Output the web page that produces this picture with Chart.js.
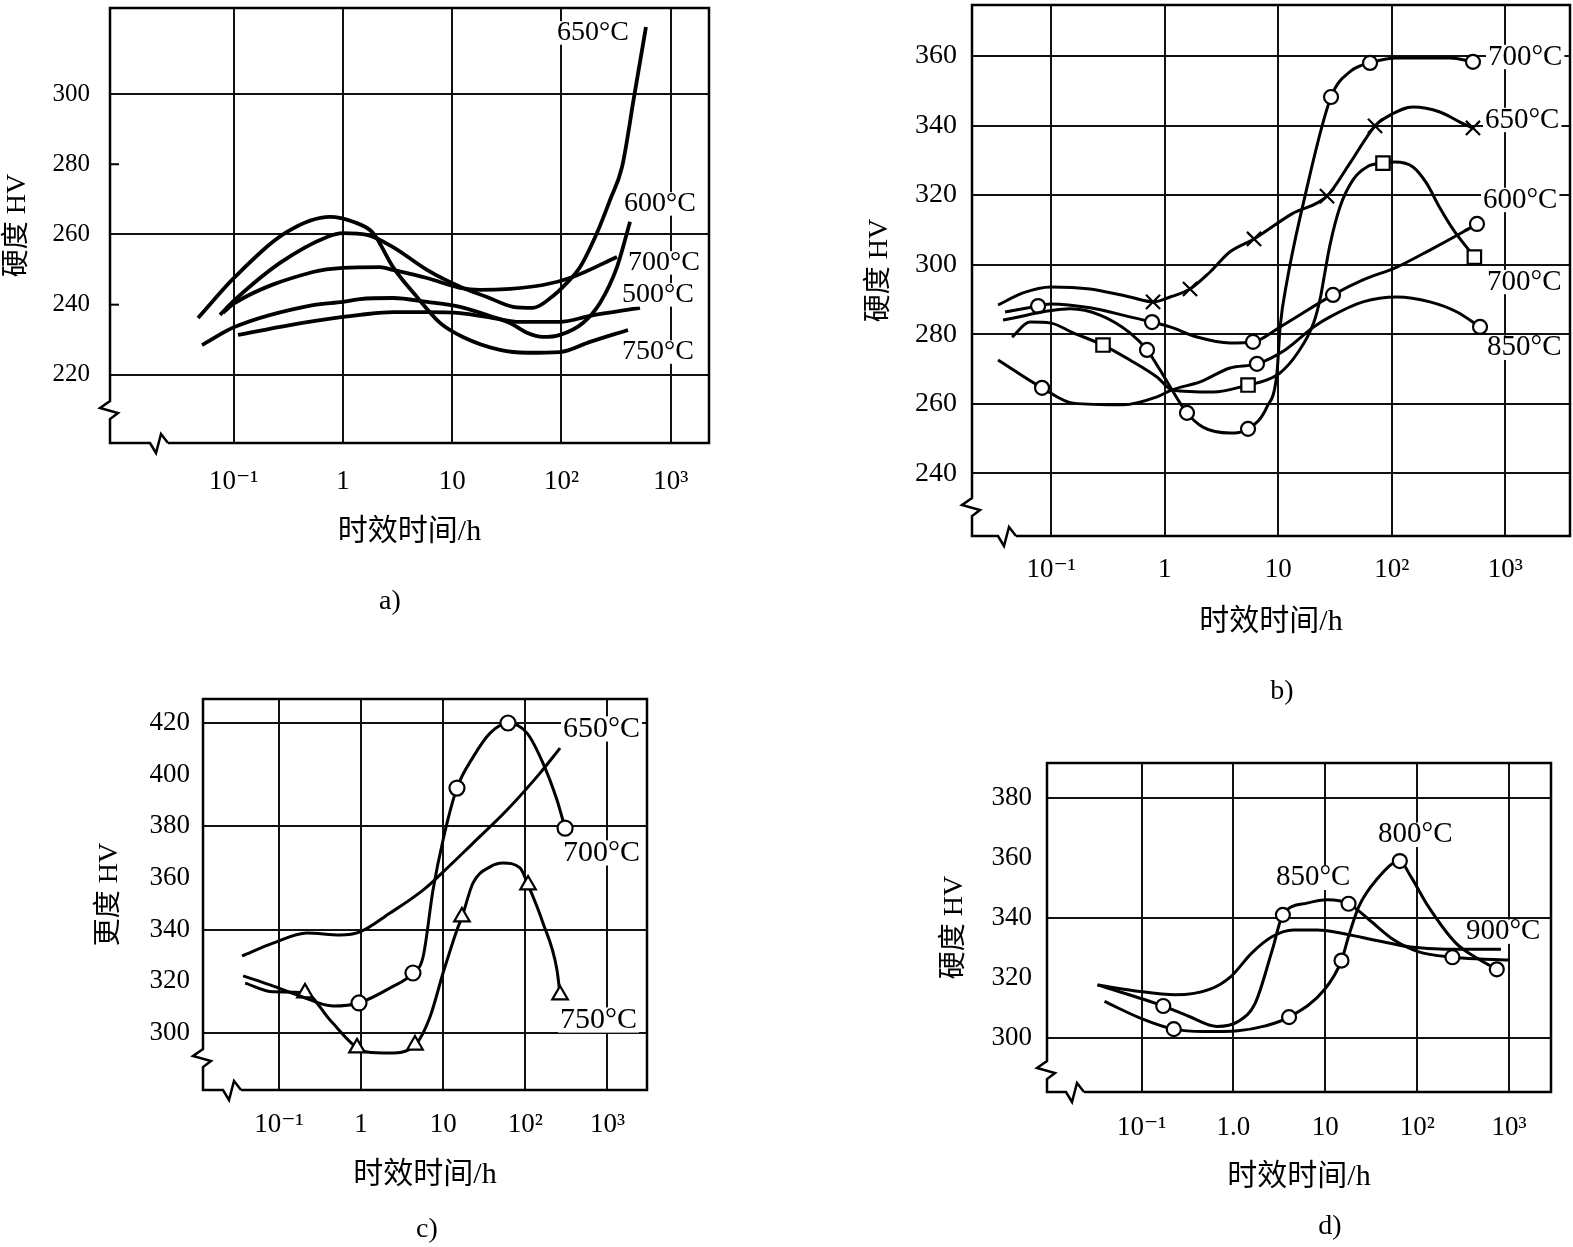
<!DOCTYPE html>
<html><head><meta charset="utf-8">
<script src="https://cdn.jsdelivr.net/npm/chart.js@4.4.1/dist/chart.umd.min.js"></script>
<style>
html,body{margin:0;padding:0;background:#fff;}
#page{position:relative;width:1573px;height:1247px;overflow:hidden;background:#fff;}
canvas{position:absolute;left:0;top:0;width:1573px;height:1247px;}
.cap{position:absolute;font-family:'Liberation Serif','DejaVu Serif',serif;font-size:28px;color:#000;transform:translate(-50%,-50%);white-space:nowrap;}
</style></head><body>
<div id="page">
<canvas id="ca" width="1573" height="1247"></canvas>
<canvas id="cb" width="1573" height="1247"></canvas>
<canvas id="cc" width="1573" height="1247"></canvas>
<canvas id="cd" width="1573" height="1247"></canvas>
<div class="cap" style="left:390px;top:600px">a)</div>
<div class="cap" style="left:1282px;top:690px">b)</div>
<div class="cap" style="left:427px;top:1228px">c)</div>
<div class="cap" style="left:1330px;top:1225px">d)</div>
</div>
<script>
// ---------- shared tick values / labels ----------
const X_TICKS = [0.1, 1, 10, 100, 1000];
const X_LABELS = ['10\u207B\u00B9', '1', '10', '10\u00B2', '10\u00B3'];
const X_LABELS_D = ['10\u207B\u00B9', '1.0', '10', '10\u00B2', '10\u00B3'];
const X_TITLE = '时效时间/h';

// ---------- panel a ----------
const A_Y_TICKS = [220, 240, 260, 280, 300];
const A_T_650 = [0.0748, 0.1026, 0.265, 0.714, 1.0, 1.66, 2.87, 5.87, 11.8, 20.8, 36.0, 54.8, 83.6, 112, 148, 211, 278, 358, 461, 593];
const A_HV_650 = [237.1, 241.4, 251.9, 259.3, 260.4, 259.9, 256.4, 249.9, 245.1, 242.2, 239.4, 239.1, 242.5, 246.2, 250.7, 260.4, 269.8, 279.2, 299.1, 319.1];
const A_T_600 = [0.0512, 0.1026, 0.531, 1.0, 1.43, 2.87, 5.87, 11.8, 23.6, 33.8, 48.3, 67.7, 96.8, 157, 225, 322, 424];
const A_HV_600 = [228.5, 233.7, 239.9, 240.8, 241.6, 241.9, 240.8, 239.4, 236.5, 234.8, 232.0, 230.8, 231.4, 234.8, 240.5, 250.7, 263.6];
const A_T_700 = [0.0797, 0.1026, 0.531, 1.0, 2.18, 2.87, 5.87, 11.8, 17.9, 33.8, 67.7, 127, 322];
const A_HV_700 = [237.7, 240.5, 249.3, 250.5, 250.7, 249.9, 247.6, 244.8, 244.2, 244.5, 245.6, 247.9, 253.6];
const A_T_500 = [0.1094, 0.327, 1.0, 1.43, 2.87, 5.87, 11.8, 23.6, 41.7, 96.8, 182, 523];
const A_HV_500 = [231.4, 234.2, 236.5, 237.1, 237.9, 237.9, 237.6, 236.2, 235.1, 235.1, 236.8, 239.1];
const A_T_750 = [0.0471, 0.1026, 0.307, 0.760, 1.236, 1.884, 2.87, 4.75, 7.73, 12.5, 27.4, 48.3, 96.8, 182, 406];
const A_HV_750 = [236.2, 247.9, 260.7, 265.0, 263.6, 260.4, 250.7, 242.2, 234.8, 230.8, 227.1, 226.3, 226.5, 229.4, 232.8];
const A_NAMES = ['650°C', '600°C', '700°C', '500°C', '750°C'];

// ---------- panel b ----------
const B_Y_TICKS = [240, 260, 280, 300, 320, 340, 360];
const B_T_700H = [0.0376, 0.147, 0.269, 0.494, 0.698, 0.910, 1.159, 1.571, 2.17, 3.76, 5.42, 7.96, 9.75, 10.4, 12.0, 16.9, 29.2, 43.8, 64.4, 111, 326, 520];
const B_HV_700H = [284.1, 287.3, 285.5, 280.4, 275.5, 269.7, 264.0, 257.4, 253.3, 251.6, 252.8, 259.1, 268.9, 282.1, 295.6, 318.6, 348.2, 355.7, 358.0, 359.4, 359.4, 358.3];
const B_MK_700H = [4, 7, 10, 16, 18, 21];
const B_T_650 = [0.0340, 0.0564, 0.0995, 0.220, 0.494, 0.789, 1.114, 1.671, 2.51, 3.76, 6.12, 13.2, 26.9, 42.9, 71.3, 90.9, 154, 266, 399, 520];
const B_HV_650 = [288.4, 291.9, 293.6, 293.0, 290.7, 289.3, 290.7, 293.0, 297.9, 303.7, 307.4, 314.6, 319.7, 329.2, 339.9, 342.5, 345.3, 343.9, 341.0, 339.3];
const B_MK_650 = [5, 7, 10, 12, 14, 19];
const B_T_600 = [0.0452, 0.0650, 0.0995, 0.156, 0.286, 0.494, 0.855, 1.159, 2.67, 5.42, 7.96, 10.4, 14.8, 20.5, 23.6, 25.1, 28.6, 35.0, 45.6, 60.5, 83.8, 107, 154, 202, 263, 350, 455, 535];
const B_HV_600 = [279.2, 283.5, 283.2, 280.4, 276.9, 272.6, 267.7, 264.0, 263.4, 265.4, 266.9, 268.9, 274.6, 283.2, 290.7, 295.6, 305.7, 316.6, 324.4, 328.1, 329.2, 329.5, 328.1, 323.5, 316.6, 310.0, 305.1, 302.2];
const B_MK_600 = [4, 9, 20, 27];
const B_T_700L = [0.0392, 0.0766, 0.0995, 0.220, 0.494, 0.773, 1.114, 1.93, 3.76, 6.00, 10.4, 30.4, 55.8, 111, 217, 425, 564];
const B_HV_700L = [286.4, 288.1, 288.7, 287.6, 285.0, 283.5, 282.1, 279.2, 277.5, 277.8, 282.1, 291.3, 295.6, 299.3, 304.2, 309.4, 311.7];
const B_MK_700L = [1, 5, 9, 11, 16];
const B_T_850 = [0.0340, 0.0830, 0.156, 0.430, 0.855, 1.159, 2.05, 3.76, 6.50, 11.5, 20.5, 28.6, 55.8, 111, 217, 376, 600];
const B_HV_850 = [272.6, 264.6, 260.2, 259.7, 262.0, 264.0, 266.3, 270.3, 271.5, 275.5, 282.1, 285.0, 289.3, 290.7, 289.3, 286.4, 282.1];
const B_MK_850 = [1, 8, 16];
const B_NAMES = ['700°C', '650°C', '600°C', '700°C', '850°C'];

// ---------- panel c ----------
const C_Y_TICKS = [300, 320, 340, 360, 380, 400, 420];
const C_T_650 = [0.0365, 0.0778, 0.180, 0.455, 0.942, 2.25, 4.28, 5.68, 7.51, 9.95, 14.7, 23.1, 37.2, 61.5, 105, 164, 243, 305];
const C_HV_650 = [322.1, 318.6, 314.3, 310.4, 311.6, 317.4, 323.2, 329.4, 355.3, 374.7, 394.8, 406.8, 416.1, 420.0, 416.1, 404.5, 390.2, 379.3];
const C_MK_650 = [4, 6, 10, 13, 17];
const C_T_700 = [0.0354, 0.0845, 0.219, 0.553, 0.968, 2.25, 5.68, 9.14, 23.1, 59.8, 151, 265];
const C_HV_700 = [329.8, 334.8, 338.7, 337.9, 339.1, 346.4, 355.3, 361.2, 373.5, 386.3, 400.6, 410.3];
const C_T_750 = [0.0387, 0.0845, 0.207, 0.418, 0.891, 1.18, 2.25, 4.53, 6.90, 9.95, 14.7, 16.9, 23.1, 37.2, 53.4, 86.1, 108, 164, 243, 265];
const C_HV_750 = [319.3, 315.9, 315.5, 305.0, 294.2, 292.6, 292.2, 295.3, 306.2, 323.2, 339.9, 344.9, 358.1, 364.3, 365.8, 363.9, 357.3, 342.6, 324.4, 314.7];
const C_MK_750 = [2, 4, 7, 11, 16, 19];
const C_NAMES = ['650°C', '700°C', '750°C'];

// ---------- panel d ----------
const D_Y_TICKS = [300, 320, 340, 360, 380];
const D_T_900 = [0.0331, 0.0824, 0.233, 0.557, 0.936, 1.578, 2.65, 4.48, 8.20, 15.0, 35.9, 85.4, 204, 816];
const D_HV_900 = [317.7, 315.8, 314.4, 316.3, 320.5, 328.3, 333.8, 336.0, 336.0, 334.9, 332.5, 330.3, 329.6, 329.6];
const D_T_850 = [0.0331, 0.172, 0.330, 0.662, 1.114, 1.722, 2.65, 3.45, 6.32, 10.6, 17.9, 30.2, 55.5, 102, 242, 485, 1014];
const D_HV_850 = [317.7, 310.7, 307.2, 303.9, 305.5, 311.6, 329.4, 341.0, 344.9, 346.0, 344.7, 339.3, 332.7, 328.8, 326.9, 326.3, 326.0];
const D_MK_850 = [1, 7, 10, 14];
const D_T_800 = [0.0394, 0.0980, 0.224, 0.468, 1.114, 2.23, 4.03, 9.75, 15.0, 17.9, 23.2, 35.9, 64.7, 85.4, 132, 264, 485, 736];
const D_HV_800 = [312.2, 306.6, 303.0, 302.2, 302.5, 304.1, 307.0, 316.1, 325.8, 333.8, 343.8, 352.6, 358.9, 353.7, 343.8, 331.6, 326.0, 322.9];
const D_MK_800 = [2, 6, 8, 12, 17];
const D_NAMES = ['850°C', '800°C', '900°C'];

// ---------- rendering ----------
const PAGE_W = 1573, PAGE_H = 1247;
const SERIF = "'Liberation Serif','DejaVu Serif',serif";
const CJK = "'Liberation Serif','Noto Sans CJK SC','DejaVu Sans',sans-serif";

function framePlugin(P) {
  return {
    id: 'frame',
    afterDraw(chart) {
      const ctx = chart.ctx, a = chart.chartArea;
      const L = a.left, T = a.top, R = a.right, B = a.bottom;
      const by = B - P.breakFromBottom, bx = L + P.breakFromLeft;
      ctx.save();
      ctx.strokeStyle = '#000';
      ctx.lineWidth = 2.5;
      ctx.lineJoin = 'miter';
      ctx.beginPath();
      ctx.moveTo(bx + 9, B);
      ctx.lineTo(R, B); ctx.lineTo(R, T); ctx.lineTo(L, T);
      ctx.lineTo(L, by - 9);
      ctx.lineTo(L - 10, by - 2);
      ctx.lineTo(L + 8, by + 3);
      ctx.lineTo(L, by + 9);
      ctx.lineTo(L, B);
      ctx.lineTo(bx - 9, B);
      ctx.lineTo(bx - 3, B + 10);
      ctx.lineTo(bx + 2, B - 9);
      ctx.lineTo(bx + 9, B);
      ctx.stroke();
      const ys = chart.scales.y;
      ctx.lineWidth = 2;
      (P.yMinor || []).forEach(v => {
        const y = ys.getPixelForValue(v);
        ctx.beginPath(); ctx.moveTo(L, y); ctx.lineTo(L + 9, y); ctx.stroke();
      });
      ctx.restore();
    }
  };
}

function labelPlugin(P) {
  return {
    id: 'serieslabels',
    afterDraw(chart) {
      const ctx = chart.ctx, xs = chart.scales.x, ys = chart.scales.y;
      ctx.save();
      ctx.font = P.labelSize + 'px ' + SERIF;
      ctx.textAlign = 'left';
      ctx.textBaseline = 'middle';
      P.labels.forEach(l => {
        const x = xs.getPixelForValue(l.t), y = ys.getPixelForValue(l.hv);
        const w = ctx.measureText(l.text).width;
        ctx.fillStyle = '#fff';
        ctx.fillRect(x - 2, y - P.labelSize * 0.42, w + 4, P.labelSize * 0.84);
        ctx.fillStyle = '#000';
        ctx.fillText(l.text, x, y);
      });
      ctx.restore();
    }
  };
}

function zeroPad(sc) {
  sc.paddingTop = 0; sc.paddingBottom = 0; sc.paddingLeft = 0; sc.paddingRight = 0;
}

function build(id, P) {
  const ylh = P.yTitleSize * 1.2, xlh = P.xTitleSize * 1.2;
  const yLeft = P.yTitleX - ylh / 2;
  const Yw = P.frame.L - yLeft;
  const xBottom = P.xTitleY + xlh / 2;
  const Xh = xBottom - P.frame.B;
  const datasets = P.series.map(s => ({
    data: s.t.map((t, i) => ({ x: t, y: s.hv[i] })),
    borderColor: '#000',
    borderWidth: P.lw,
    fill: false,
    cubicInterpolationMode: 'monotone',
    pointStyle: s.style || 'circle',
    pointRadius: s.t.map((_, i) => (s.marks || []).includes(i) ? (s.r || 7) : 0),
    pointHoverRadius: 0,
    pointBackgroundColor: '#fff',
    pointBorderColor: '#000',
    pointBorderWidth: 2.2
  }));
  return new Chart(document.getElementById(id), {
    type: 'line',
    data: { datasets },
    options: {
      responsive: false,
      animation: false,
      devicePixelRatio: 1,
      events: [],
      layout: { autoPadding: false, padding: { left: yLeft, top: P.frame.T, right: PAGE_W - P.frame.R, bottom: PAGE_H - xBottom } },
      plugins: { legend: { display: false }, tooltip: { enabled: false }, title: { display: false } },
      scales: {
        x: {
          type: 'logarithmic', min: P.xMin, max: P.xMax,
          afterBuildTicks: sc => { sc.ticks = X_TICKS.map(v => ({ value: v })); },
          afterFit: sc => { sc.height = Xh; zeroPad(sc); },
          grid: { color: '#111', lineWidth: 2, drawTicks: false },
          border: { display: false },
          ticks: {
            font: { family: SERIF, size: P.xTickSize }, color: '#000',
            padding: P.xLabelY - P.frame.B - P.xTickSize * 0.6,
            maxRotation: 0, autoSkip: false,
            callback: (v, i) => P.xLabels[i]
          },
          title: { display: true, text: X_TITLE, font: { family: CJK, size: P.xTitleSize }, color: '#000', padding: 0 }
        },
        y: {
          type: 'linear', min: P.yMin, max: P.yMax,
          afterBuildTicks: sc => { sc.ticks = P.yTicks.map(v => ({ value: v })); },
          afterFit: sc => { sc.width = Yw; zeroPad(sc); },
          grid: {
            color: c => (c.tick && P.yGrid.includes(c.tick.value)) ? '#111' : 'rgba(0,0,0,0)',
            lineWidth: 2, drawTicks: false
          },
          border: { display: false },
          ticks: {
            font: { family: SERIF, size: P.yTickSize }, color: '#000',
            padding: P.yLabelPad, autoSkip: false,
            callback: v => String(v)
          },
          title: { display: true, text: P.yTitle, font: { family: CJK, size: P.yTitleSize }, color: '#000', padding: 0 }
        }
      }
    },
    plugins: [framePlugin(P), labelPlugin(P)]
  });
}

// panel a
build('ca', {
  frame: { L: 110, T: 8, R: 709, B: 443 },
  xMin: 0.00737, xMax: 2239, yMin: 200.6, yMax: 324.5,
  yTicks: A_Y_TICKS, yGrid: [220, 260, 300], yMinor: [240, 280],
  xLabels: X_LABELS,
  yTickSize: 25, xTickSize: 27, yLabelPad: 20, xLabelY: 482,
  yTitle: '硬度 HV', yTitleSize: 28, yTitleX: 18,
  xTitleSize: 30, xTitleY: 532,
  lw: 3.8, breakFromBottom: 33, breakFromLeft: 49,
  labelSize: 28,
  series: [
    { t: A_T_650, hv: A_HV_650 },
    { t: A_T_600, hv: A_HV_600 },
    { t: A_T_700, hv: A_HV_700 },
    { t: A_T_500, hv: A_HV_500 },
    { t: A_T_750, hv: A_HV_750 }
  ],
  labels: [
    { text: A_NAMES[0], t: 91.0, hv: 317.4 },
    { text: A_NAMES[1], t: 373, hv: 268.7 },
    { text: A_NAMES[2], t: 406, hv: 251.9 },
    { text: A_NAMES[3], t: 358, hv: 242.8 },
    { text: A_NAMES[4], t: 358, hv: 226.5 }
  ]
});

// panel b
build('cb', {
  frame: { L: 972, T: 5, R: 1570, B: 536 },
  xMin: 0.02004, xMax: 3724, yMin: 222.0, yMax: 374.65,
  yTicks: B_Y_TICKS, yGrid: B_Y_TICKS, yMinor: [],
  xLabels: X_LABELS,
  yTickSize: 28, xTickSize: 27, yLabelPad: 15, xLabelY: 570,
  yTitle: '硬度 HV', yTitleSize: 28, yTitleX: 880,
  xTitleSize: 30, xTitleY: 622,
  lw: 3, breakFromBottom: 29, breakFromLeft: 35,
  labelSize: 29,
  series: [
    { t: B_T_700H, hv: B_HV_700H, marks: B_MK_700H, style: 'circle', r: 7 },
    { t: B_T_650, hv: B_HV_650, marks: B_MK_650, style: 'crossRot', r: 10 },
    { t: B_T_600, hv: B_HV_600, marks: B_MK_600, style: 'rect', r: 9.5 },
    { t: B_T_700L, hv: B_HV_700L, marks: B_MK_700L, style: 'circle', r: 7 },
    { t: B_T_850, hv: B_HV_850, marks: B_MK_850, style: 'circle', r: 7 }
  ],
  labels: [
    { text: B_NAMES[0], t: 705, hv: 359.7 },
    { text: B_NAMES[1], t: 664, hv: 341.6 },
    { text: B_NAMES[2], t: 637, hv: 318.6 },
    { text: B_NAMES[3], t: 692, hv: 295.0 },
    { text: B_NAMES[4], t: 692, hv: 276.1 }
  ]
});

// panel c
build('cc', {
  frame: { L: 203, T: 699, R: 647, B: 1090 },
  xMin: 0.01186, xMax: 3034, yMin: 277.9, yMax: 429.3,
  yTicks: C_Y_TICKS, yGrid: [300, 340, 380, 420], yMinor: [],
  xLabels: X_LABELS,
  yTickSize: 27, xTickSize: 27, yLabelPad: 13, xLabelY: 1125,
  yTitle: '更度 HV', yTitleSize: 28, yTitleX: 110,
  xTitleSize: 30, xTitleY: 1175,
  lw: 3, breakFromBottom: 32, breakFromLeft: 29,
  labelSize: 30,
  series: [
    { t: C_T_650, hv: C_HV_650, marks: C_MK_650, style: 'circle', r: 7.5 },
    { t: C_T_700, hv: C_HV_700 },
    { t: C_T_750, hv: C_HV_750, marks: C_MK_750, style: 'triangle', r: 9 }
  ],
  labels: [
    { text: C_NAMES[0], t: 288, hv: 417.7 },
    { text: C_NAMES[1], t: 288, hv: 369.7 },
    { text: C_NAMES[2], t: 264, hv: 305.0 }
  ]
});

// panel d
build('cd', {
  frame: { L: 1047, T: 763, R: 1551, B: 1092 },
  xMin: 0.00933, xMax: 2864, yMin: 282.1, yMax: 391.5,
  yTicks: D_Y_TICKS, yGrid: [300, 340, 380], yMinor: [],
  xLabels: X_LABELS_D,
  yTickSize: 27, xTickSize: 27, yLabelPad: 15, xLabelY: 1128,
  yTitle: '硬度 HV', yTitleSize: 28, yTitleX: 955,
  xTitleSize: 30, xTitleY: 1177,
  lw: 3, breakFromBottom: 22, breakFromLeft: 28,
  labelSize: 29,
  series: [
    { t: D_T_900, hv: D_HV_900 },
    { t: D_T_850, hv: D_HV_850, marks: D_MK_850, style: 'circle', r: 7 },
    { t: D_T_800, hv: D_HV_800, marks: D_MK_800, style: 'circle', r: 7 }
  ],
  labels: [
    { text: D_NAMES[0], t: 2.90, hv: 353.3 },
    { text: D_NAMES[1], t: 37.5, hv: 367.6 },
    { text: D_NAMES[2], t: 340, hv: 335.4 }
  ]
});
</script>
</body></html>
